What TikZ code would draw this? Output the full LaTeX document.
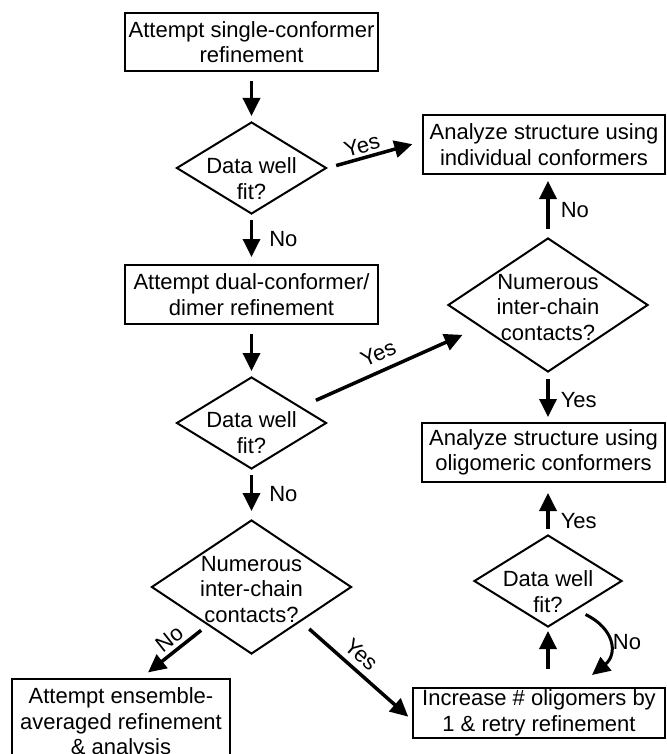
\documentclass[tikz,border=0pt]{standalone}
\usepackage{fontspec}
\setmainfont{Liberation Sans}
\usetikzlibrary{shapes.geometric,arrows.meta}

\begin{document}
\begin{tikzpicture}[x=1pt, y=-1pt,
    every node/.style={font=\fontsize{22}{25.5}\selectfont},
    box/.style={draw, line width=2pt, align=center, inner sep=0pt},
    decision/.style={draw, diamond, aspect=1.6, line width=2pt, align=center,
        inner sep=-20pt, text depth=0pt},
    arr/.style={line width=3.5pt, -{Triangle[length=18pt,width=17pt]}},
    lbl/.style={inner sep=2pt}]

    \useasboundingbox (0,0) rectangle (666,754);

    % Left column
    \node[box, minimum width=253pt, minimum height=58pt] (single) at (251.5,42)
        {Attempt single-conformer\\refinement};
    \node[decision, text height=62pt, minimum width=150pt, minimum height=92pt] (fit1) at (251.5,168)
        {Data well\\fit?};
    \node[box, minimum width=253pt, minimum height=59pt] (dual) at (251.5,294.5)
        {Attempt dual-conformer/\\dimer refinement};
    \node[decision, text height=60pt, minimum width=150pt, minimum height=92pt] (fit2) at (251.5,423)
        {Data well\\fit?};
    \node[decision, text height=70pt, minimum width=200pt, minimum height=134pt] (chains2) at (251.5,587)
        {Numerous\\inter-chain\\contacts?};
    \node[box, minimum width=218pt, minimum height=89pt] (ensemble) at (121,723.5)
        {Attempt ensemble-\\averaged refinement\\\& analysis};

    % Right column
    \node[box, minimum width=242pt, minimum height=59pt] (indiv) at (544,144.5)
        {Analyze structure using\\individual conformers};
    \node[decision, text height=70pt, minimum width=200pt, minimum height=134pt] (chains1) at (548,305)
        {Numerous\\inter-chain\\contacts?};
    \node[box, minimum width=243pt, minimum height=59pt] (oligo) at (543.5,452.5)
        {Analyze structure using\\oligomeric conformers};
    \node[decision, text height=62pt, minimum width=148pt, minimum height=92pt] (fit3) at (548,581)
        {Data well\\fit?};
    \node[box, minimum width=252pt, minimum height=50pt] (increase) at (539,713)
        {Increase \# oligomers by\\1 \& retry refinement};

    % Arrows, left column
    \draw[arr, shorten <=9pt, shorten >=5pt] (single) -- (fit1);
    \draw[arr, shorten <=5pt, shorten >=7pt] (fit1) -- node[lbl, right=14pt] {No} (dual);
    \draw[arr, shorten <=9pt, shorten >=5pt] (dual) -- (fit2);
    \draw[arr, shorten <=5pt, shorten >=8pt] (fit2) -- node[lbl, right=14pt] {No} (chains2);
    \draw[arr, shorten <=8pt, shorten >=9pt] (chains2.221) -- node[lbl, above=2pt, sloped, pos=.45] {No} ([xshift=20pt]ensemble.north);
    \draw[arr, shorten <=11pt, shorten >=5pt] (chains2.-35) -- node[lbl, above=4pt, sloped, pos=.45] {Yes} ([yshift=-7pt]increase.west);

    % Arrows across
    \draw[arr, shorten <=9pt, shorten >=10pt] (fit1.east) -- node[lbl, above=1pt, sloped, pos=.4] {Yes} ([yshift=3pt]indiv.west);
    \draw[arr, shorten <=16pt, shorten >=19pt] (fit2.18) -- node[lbl, above=6pt, sloped, pos=.47] {Yes} (chains1.198);

    % Arrows, right column
    \draw[arr, shorten <=8pt, shorten >=6pt] (chains1.north) -- node[lbl, right=9pt, pos=.44] {No} (chains1.north |- indiv.south);
    \draw[arr, shorten <=6pt, shorten >=5pt] (chains1.south) -- node[lbl, right=9pt, pos=.55] {Yes} (chains1.south |- oligo.north);
    \draw[arr, shorten <=5pt, shorten >=10pt] (fit3.north) -- node[lbl, right=9pt, pos=.26] {Yes} (fit3.north |- oligo.south);
    \draw[arr, shorten <=18pt, shorten >=3pt] (fit3.south |- increase.north) -- (fit3.south);
    \draw[arr, line width=3pt] ([yshift=-10pt]fit3.south east) .. controls +(29,14) and +(26,-21) .. node[lbl, right, pos=.5] {No} ([xshift=53pt, yshift=12pt]increase.north);

\end{tikzpicture}
\end{document}
